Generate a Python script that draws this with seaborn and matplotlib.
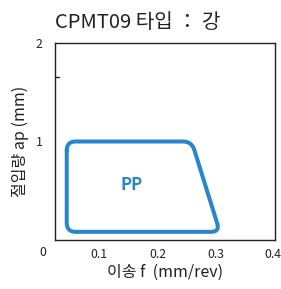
import numpy as np
import pandas as pd
import matplotlib
matplotlib.use("Agg")
import matplotlib.pyplot as plt
import matplotlib.transforms as mtrans
import seaborn as sns

# Data
region_f = [0.045, 0.258, 0.306, 0.045]
region_ap = [1.0, 1.0, 0.083, 0.083]
region_label = "PP"
label_pos = (0.155, 0.56)
x_ticks = [0.1, 0.2, 0.3, 0.4]
x_ticklabels = ["0.1", "0.2", "0.3", "0.4"]
y_ticks = [1, 2]
y_ticklabels = ["1", "2"]
extra_ytick = 1.65
title = "CPMT09 타입 ： 강"
xlabel = "이송 f  (mm/rev)"
ylabel = "절입량 ap (mm)"

sns.set_style("white")
plt.rcParams['font.family'] = ['Noto Sans CJK KR', 'DejaVu Sans']

W, H = 281, 289
fig = plt.figure(figsize=(W / 100, H / 100), dpi=100)
ax = fig.add_axes([55 / W, 1 - 240 / H, 220 / W, 197 / H])
xlim = (0.025, 0.4)
ylim = (0, 2)
ax.set_xlim(*xlim)
ax.set_ylim(*ylim)

# rounded polygon in pixel space
sx = 220 / (xlim[1] - xlim[0])
sy = 197 / (ylim[1] - ylim[0])
P = np.column_stack([(np.array(region_f) - xlim[0]) * sx, np.array(region_ap) * sy])
r = 9.0
n = len(P)
pts = []
t = np.linspace(0, 1, 12)
for i in range(n):
    v = P[i]
    a = P[i - 1]
    b = P[(i + 1) % n]
    da = (a - v) / np.linalg.norm(a - v)
    db = (b - v) / np.linalg.norm(b - v)
    p0 = v + da * r
    p2 = v + db * r
    for tt in t:
        pts.append((1 - tt) ** 2 * p0 + 2 * (1 - tt) * tt * v + tt ** 2 * p2)
pts.append(pts[0])
pts = np.array(pts)
df = pd.DataFrame({"f": pts[:, 0] / sx + xlim[0], "ap": pts[:, 1] / sy, "o": np.arange(len(pts))})
sns.lineplot(data=df, x="f", y="ap", sort=False, estimator=None, color="#2a86cb",
             lw=2.9, ax=ax, solid_joinstyle="round", solid_capstyle="round")

ax.text(label_pos[0], label_pos[1], region_label, color="#2a86cb", fontsize=12,
        fontweight="bold", ha="center", va="center")

ax.set_xticks(x_ticks)
ax.set_xticklabels(x_ticklabels)
ax.set_yticks(y_ticks + [extra_ytick])
ax.set_yticklabels(y_ticklabels + [""])
ax.tick_params(axis="both", direction="in", length=4, width=1, color="#222222",
               labelsize=8.8, labelcolor="#222222", pad=6)
ax.tick_params(axis="y", length=0, pad=9)
ax.plot([xlim[0], xlim[0] + 4 / sx], [extra_ytick, extra_ytick], color="#222222", lw=1, clip_on=False)
ax.text(0.004, -0.13, "0", fontsize=8.8, color="#222222", ha="center", va="center", clip_on=False)

# nudge the last x tick label slightly left so it stays inside the figure
last = ax.get_xticklabels()[-1]
last.set_transform(last.get_transform() + mtrans.ScaledTranslation(-2 / 100, 0, fig.dpi_scale_trans))

for s in ax.spines.values():
    s.set_color("#222222")
    s.set_linewidth(1)

ax.set_xlabel(xlabel, fontsize=11.5, color="#222222", labelpad=2)
ax.set_ylabel(ylabel, fontsize=11.5, color="#222222", labelpad=5)
fig.text(138 / W, 1 - 22 / H, title, fontsize=14.5, ha="center", va="center", color="#222222")

fig.savefig("out.png", dpi=100)
